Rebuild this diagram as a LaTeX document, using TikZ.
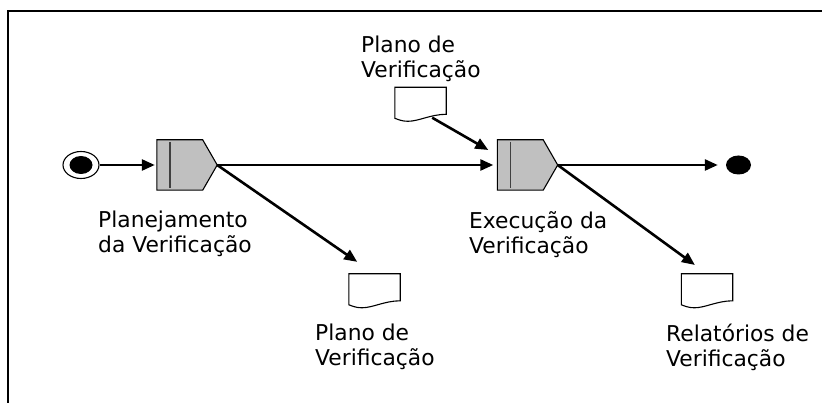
\documentclass[tikz,border=0pt]{standalone}
\usepackage{fontspec}
\setmainfont{DejaVu Sans}
\usetikzlibrary{arrows.meta,calc,shapes.geometric}

\tikzset{
  conn/.style={line width=2.6pt, -{Triangle[length=13pt,width=11pt]}},
  thin outline/.style={line width=1.1pt},
  procbox/.style={rectangle, minimum width=60pt, minimum height=50pt, inner sep=0pt},
  docbox/.style={rectangle, minimum width=51pt, minimum height=34pt, inner sep=0pt},
  lbl/.style={anchor=north west, align=left, inner sep=0pt,
    font=\fontsize{21.8}{25}\selectfont},
}

\begin{document}
\begin{tikzpicture}[x=1pt, y=-1pt]
  \useasboundingbox (0,0) rectangle (822,403);

  % open frame: left and top edges
  \draw[line width=1.1pt] (8,403) -- (8,11) -- (822,11);

  % start and end states
  \node[ellipse, draw, line width=1.1pt, minimum width=36pt, minimum height=27pt, inner sep=0pt] (start) at (81,165) {};
  \fill (start.center) ellipse [x radius=11.5pt, y radius=9pt];
  \node[ellipse, fill=black, minimum width=25pt, minimum height=19pt, inner sep=0pt] (finish) at (738.5,165) {};

  % activities
  \node[procbox] (p1) at (187,165) {};
  \node[procbox] (p2) at (527.5,165) {};
  \foreach \p in {p1,p2} {
    \draw[thin outline, fill={rgb,255:red,192;green,192;blue,192}]
      (\p.north west) -- ($(\p.north east)+(-14.5,0)$) -- (\p.east)
      -- ($(\p.south east)+(-14.5,0)$) -- (\p.south west) -- cycle;
    \draw[line width=1.4pt, black!75] ($(\p.north west)+(13,2)$) -- ($(\p.south west)+(13,-2)$);
  }

  % documents
  \node[docbox] (doc1) at (420.5,104.5) {};
  \node[docbox] (doc2) at (374.5,291) {};
  \node[docbox] (doc3) at (707,291) {};
  \foreach \d in {doc1,doc2,doc3} {
    \draw[thin outline, fill=white]
      (\d.north west) -- (\d.north east) -- ($(\d.north east)+(0,27)$)
      .. controls ($(\d.north west)+(36,27)$) and ($(\d.north west)+(24,34)$) .. ($(\d.north west)+(13,34)$)
      .. controls ($(\d.north west)+(7,34)$) and ($(\d.north west)+(3,32)$) .. ($(\d.north west)+(0,31)$)
      -- cycle;
  }

  % connectors
  \draw[conn, shorten >=2pt] (start.east) -- (p1.west);
  \draw[conn, shorten >=4pt] (p1.east) -- (p2.west);
  \draw[conn, shorten >=8pt] (p2.east) -- (finish.west);
  \draw[conn, shorten >=21pt] (p1.east) -- (doc2.north);
  \draw[conn, shorten >=15pt] (p2.east) -- (doc3.north);
  \coordinate (p2in) at ($(p2.west)+(-9,-15)$);
  \draw[conn] ($(doc1.south east)+(-14,-4)$) -- (p2in);

  % labels
  \node[lbl] (t1) at (361,35.5) {Plano de\\Verificação};
  \node[lbl] (t2) at (98,210.5) {Planejamento\\da Verificação};
  \node[lbl] (t3) at (469,211.5) {Execução da\\Verificação};
  \node[lbl] (t4) at (315,323.5) {Plano de\\Verificação};
  \node[lbl] (t5) at (666,323.5) {Relatórios de\\Verificação};
\end{tikzpicture}
\end{document}
